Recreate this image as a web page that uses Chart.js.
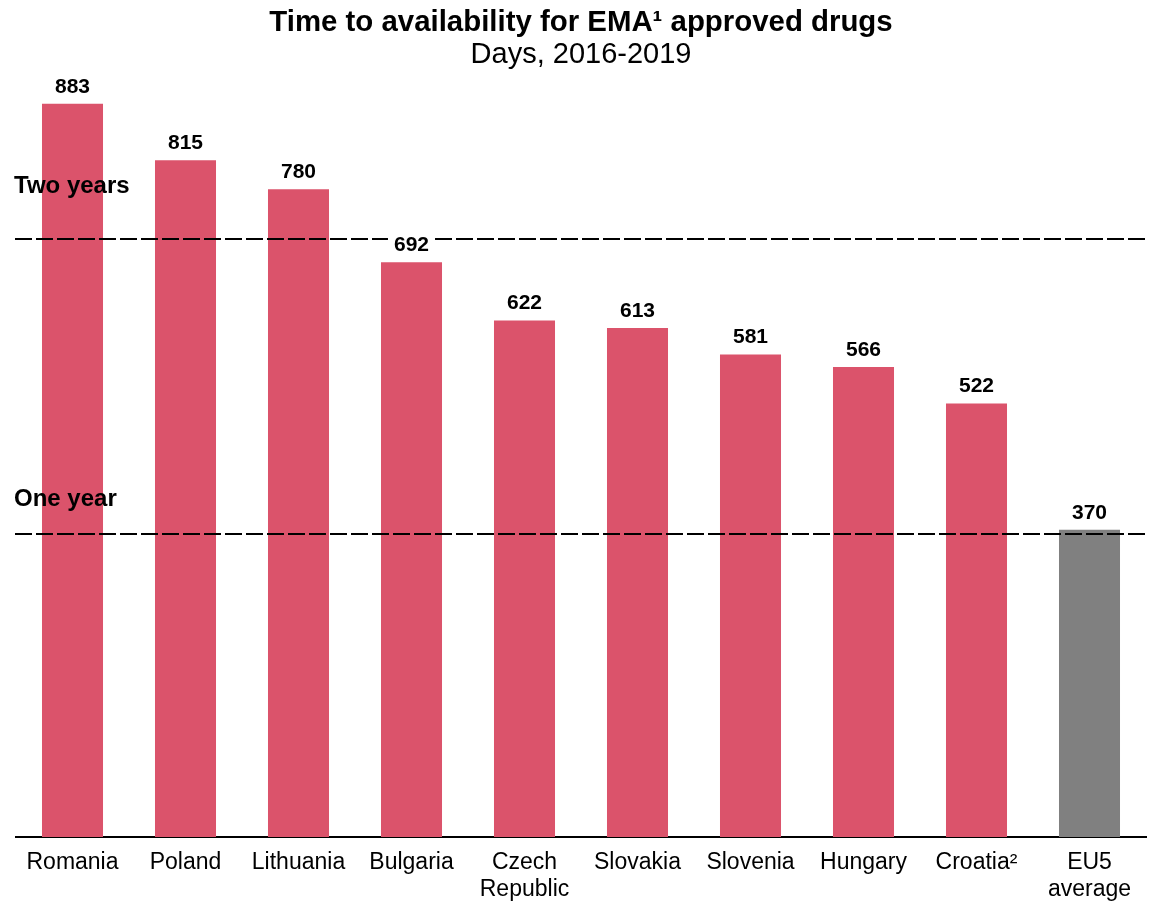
<!DOCTYPE html>
<html>
<head>
<meta charset="utf-8">
<title>Time to availability for EMA approved drugs</title>
<script src="https://cdn.jsdelivr.net/npm/chart.js@4.4.1/dist/chart.umd.min.js"></script>
<style>
  html, body { margin: 0; padding: 0; background: #fff; }
  #wrap { width: 1149px; height: 901px; position: relative; }
</style>
</head>
<body>
<div id="wrap"><canvas id="chart"></canvas></div>
<script>
// Countries (multi-line labels where the name wraps)
const countries = [
  'Romania', 'Poland', 'Lithuania', 'Bulgaria', ['Czech', 'Republic'],
  'Slovakia', 'Slovenia', 'Hungary', 'Croatia\u00B2', ['EU5', 'average']
];
// Days from EMA approval to availability
const days = [883, 815, 780, 692, 622, 613, 581, 566, 522, 370];
// Reference thresholds (days) and their captions
const thresholdValues = [365, 720];
const thresholdLabels = ['One year', 'Two years'];

const RED = '#DB536B';
const GREY = '#808080';
const barColors = countries.map((c, i) => i === countries.length - 1 ? GREY : RED);

const FONT = '"Liberation Sans", Arial, Helvetica, sans-serif';

// Dashed threshold lines with bold captions (caption lift above its line, px)
const captionLift = [28, 46];
const thresholdPlugin = {
  id: 'thresholds',
  afterDatasetsDraw(chart) {
    const { ctx, scales: { y } } = chart;
    ctx.save();
    thresholdValues.forEach((v, i) => {
      const py = Math.round(y.getPixelForValue(v));
      ctx.beginPath();
      ctx.setLineDash([17, 4]);
      ctx.lineWidth = 2;
      ctx.strokeStyle = '#000';
      ctx.moveTo(15, py);
      ctx.lineTo(chart.width, py);
      ctx.stroke();
      ctx.setLineDash([]);
      ctx.fillStyle = '#000';
      ctx.font = 'bold 24px ' + FONT;
      ctx.textAlign = 'left';
      ctx.textBaseline = 'alphabetic';
      ctx.fillText(thresholdLabels[i], 14, py - captionLift[i]);
    });
    ctx.restore();
  }
};

// Value labels above each bar, on a white backing so dashed lines break around them
const valueLabelPlugin = {
  id: 'valueLabels',
  afterDatasetsDraw(chart) {
    const { ctx } = chart;
    const meta = chart.getDatasetMeta(0);
    ctx.save();
    ctx.font = 'bold 21px ' + FONT;
    ctx.textAlign = 'center';
    ctx.textBaseline = 'alphabetic';
    meta.data.forEach((bar, i) => {
      const text = String(days[i]);
      const w = ctx.measureText(text).width;
      const base = bar.y - 11;
      ctx.fillStyle = '#fff';
      ctx.fillRect(bar.x - w / 2 - 6, base - 19, w + 12, 23);
      ctx.fillStyle = '#000';
      ctx.fillText(text, bar.x, base);
    });
    ctx.restore();
  }
};

new Chart(document.getElementById('chart'), {
  type: 'bar',
  data: {
    labels: countries,
    datasets: [{
      data: days,
      backgroundColor: barColors,
      borderWidth: 0,
      categoryPercentage: 1.0,
      barPercentage: 0.54
    }]
  },
  options: {
    responsive: true,
    maintainAspectRatio: false,
    animation: false,
    layout: { padding: { left: 16, right: 3, top: 0, bottom: 0 } },
    plugins: {
      legend: { display: false },
      tooltip: { enabled: false },
      title: {
        display: true,
        text: 'Time to availability for EMA\u00B9 approved drugs',
        color: '#000',
        font: { family: FONT, size: 29.4, weight: 'bold', lineHeight: 1.1 },
        padding: { top: 7, bottom: 0 }
      },
      subtitle: {
        display: true,
        text: 'Days, 2016-2019',
        color: '#000',
        font: { family: FONT, size: 29, weight: 'normal', lineHeight: 1.1 },
        padding: { top: 0, bottom: 10 }
      }
    },
    scales: {
      x: {
        grid: { display: false, drawTicks: false },
        border: { display: true, color: '#000', width: 2 },
        ticks: {
          color: '#000',
          font: { family: FONT, size: 23, lineHeight: 1.17 },
          padding: 12,
          maxRotation: 0,
          autoSkip: false
        },
        afterFit(scale) { scale.height = 64; }
      },
      y: {
        display: false,
        min: 0,
        max: 910,
        grid: { display: false }
      }
    }
  },
  plugins: [thresholdPlugin, valueLabelPlugin]
});
</script>
</body>
</html>
